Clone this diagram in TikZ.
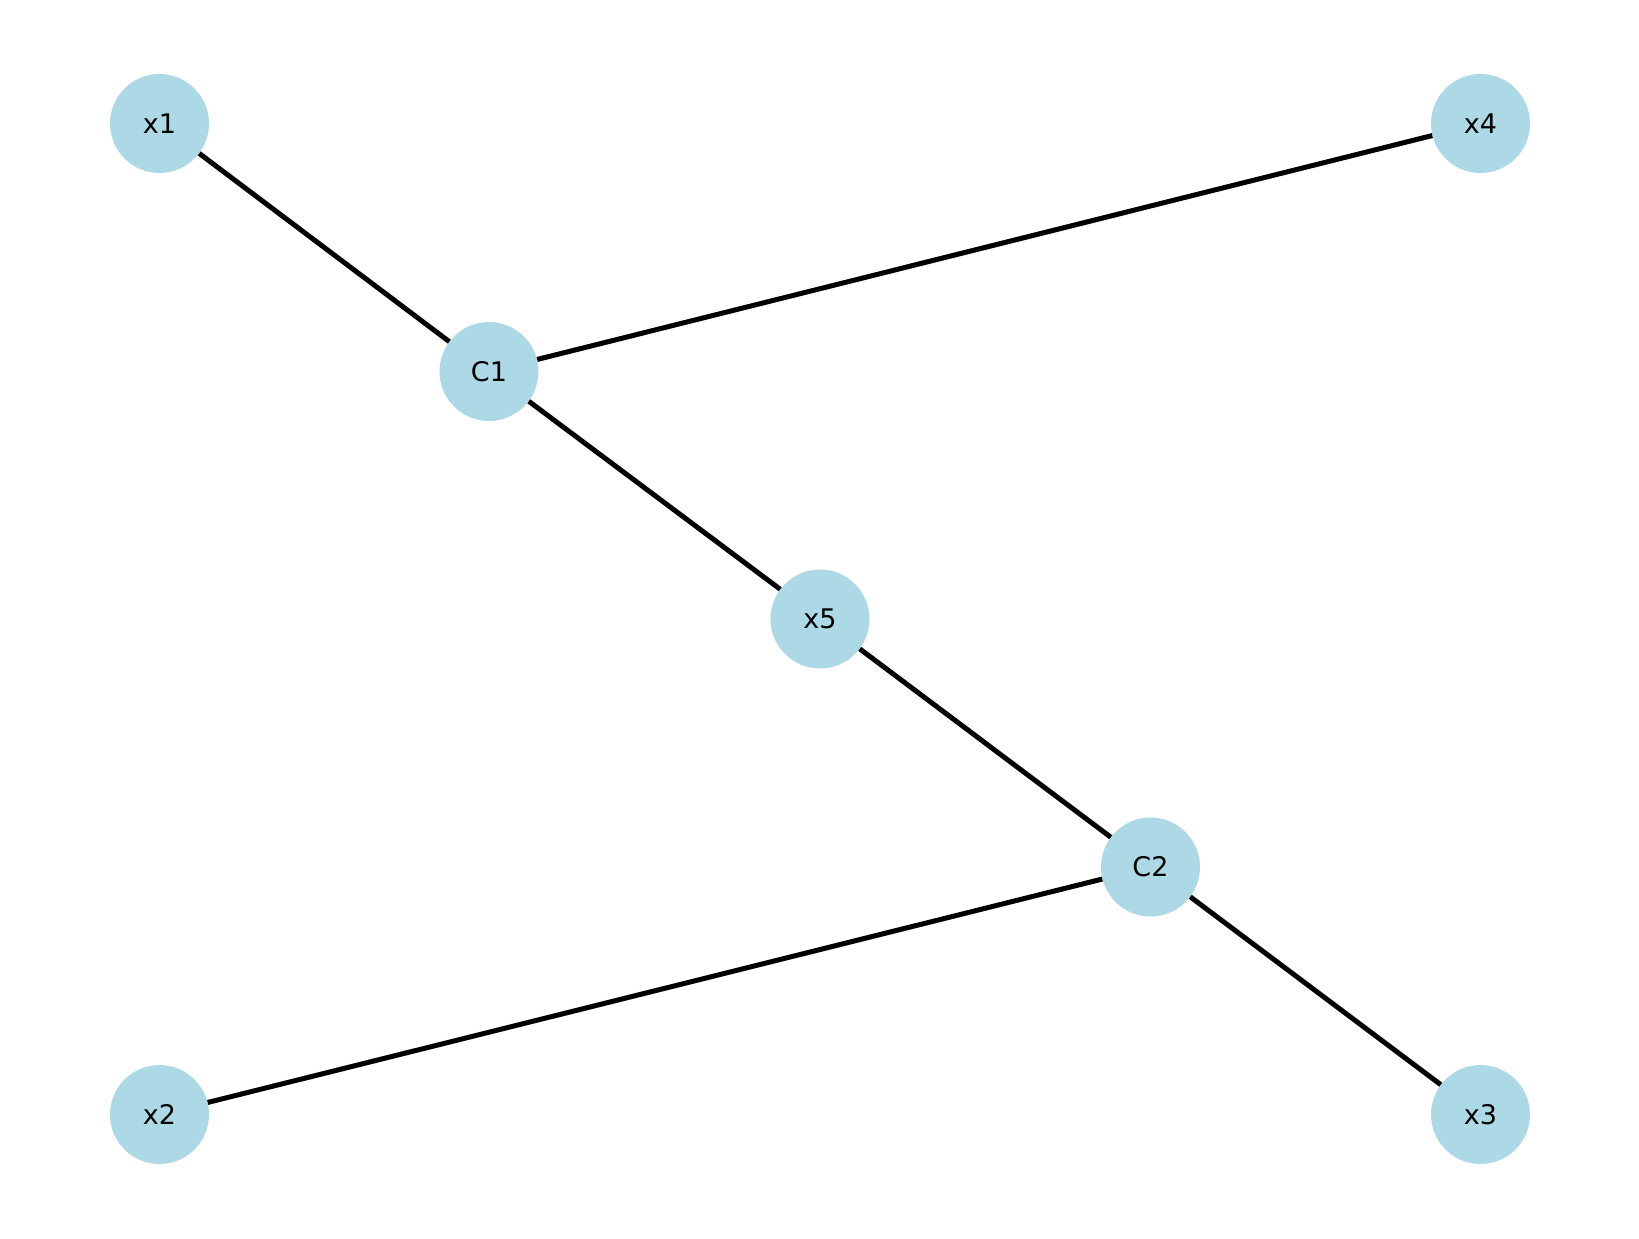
\documentclass[tikz,border=0pt]{standalone}
\usepackage{fontspec}
\setmainfont{DejaVu Sans}
\definecolor{lblue}{HTML}{ADD8E6}
\begin{document}
\begin{tikzpicture}[x=1pt,y=-1pt,
  vtx/.style={circle,fill=lblue,minimum size=99pt,inner sep=0pt,font=\fontsize{27}{31}\selectfont},
  edge/.style={line width=5pt,black}]
\useasboundingbox (0,0) rectangle (1639,1239);
\node[vtx] (x1) at (159.5,123.5) {x1};
\node[vtx] (x4) at (1480.5,123.5) {x4};
\node[vtx] (C1) at (489,371.5) {C1};
\node[vtx] (x5) at (820,619) {x5};
\node[vtx] (C2) at (1150.5,867) {C2};
\node[vtx] (x2) at (159.5,1114.5) {x2};
\node[vtx] (x3) at (1480.5,1114.5) {x3};
\draw[edge] (x1) -- (C1);
\draw[edge] (C1) -- (x4);
\draw[edge] (C1) -- (x5);
\draw[edge] (x5) -- (C2);
\draw[edge] (C2) -- (x2);
\draw[edge] (C2) -- (x3);
\end{tikzpicture}
\end{document}
